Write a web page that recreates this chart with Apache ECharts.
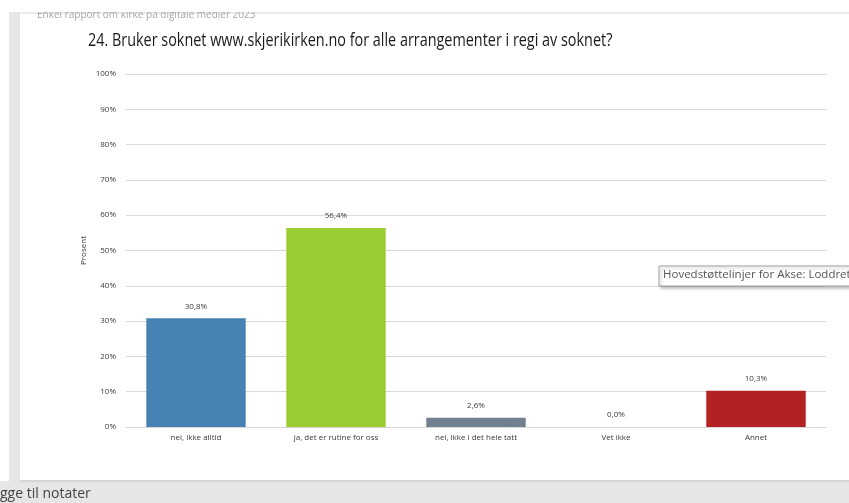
<!DOCTYPE html>
<html>
<head>
<meta charset="utf-8">
<script src="https://cdn.jsdelivr.net/npm/echarts@6/dist/echarts.min.js"></script>
<style>
html,body{margin:0;padding:0;background:#fff;}
#c{width:849px;height:503px;}
</style>
</head>
<body>
<div id="c"></div>
<script>
const categories = ['nei, ikke alltid', 'ja, det er rutine for oss', 'nei, ikke i det hele tatt', 'Vet ikke', 'Annet'];
const values = [30.8, 56.4, 2.6, 0.0, 10.3];
const barColors = ['#4682B4', '#9ACD32', '#708090', '#708090', '#B22222'];
const yTicks = [0, 10, 20, 30, 40, 50, 60, 70, 80, 90, 100];
const titleText = '24. Bruker soknet www.skjerikirken.no for alle arrangementer i regi av soknet?';
const headerText = 'Enkel rapport om kirke på digitale medier 2023';
const tooltipText = 'Hovedstøttelinjer for Akse: Loddrett';
const footerText = 'gge til notater';

const chart = echarts.init(document.getElementById('c'));
const font = 'Open Sans, Noto Sans, sans-serif';
chart.setOption({
  animation: false,
  backgroundColor: '#ffffff',
  grid: { left: 126, right: 23, top: 74, bottom: 76, containLabel: false },
  xAxis: {
    type: 'category',
    data: categories,
    axisLine: { show: true, lineStyle: { color: '#d9d9d9', width: 1 } },
    axisTick: { show: false },
    axisLabel: { color: '#3a3a3a', fontSize: 8, fontFamily: font, margin: 7 }
  },
  yAxis: {
    type: 'value',
    min: 0, max: 100, interval: 10,
    name: 'Prosent',
    nameLocation: 'middle',
    nameGap: 38,
    nameMoveOverlap: false,
    nameRotate: 90,
    nameTextStyle: { color: '#3a3a3a', fontSize: 8, fontFamily: font },
    axisLine: { show: false },
    axisTick: { show: false },
    axisLabel: { color: '#3a3a3a', fontSize: 8, fontFamily: font, margin: 10, formatter: v => yTicks.includes(v) ? v + '%' : '' },
    splitLine: { lineStyle: { color: '#d9d9d9', width: 1 } }
  },
  series: [{
    type: 'bar',
    barWidth: '71%',
    data: values.map((v, i) => ({ value: v, itemStyle: { color: barColors[i] } })),
    label: {
      show: true, position: 'top', distance: 8,
      color: '#3a3a3a', fontSize: 8, fontFamily: font,
      formatter: p => p.value.toFixed(1).replace('.', ',') + '%'
    }
  }],
  graphic: [
    { type: 'text', x: 37, y: 10, z: 1, style: { text: headerText, fill: '#a8a8a8', font: '10px ' + font, verticalAlign: 'top' } },
    { type: 'rect', shape: { x: 0, y: 0, width: 849, height: 12 }, style: { fill: '#ffffff' }, z: 2 },
    { type: 'rect', shape: { x: 9, y: 12, width: 840, height: 2 }, style: { fill: '#e9e9e9' }, z: 0 },
    { type: 'rect', shape: { x: 9, y: 12, width: 11, height: 470 }, style: { fill: '#e6e6e6' }, z: 2 },
    { type: 'rect', shape: { x: 0, y: 481, width: 849, height: 22 }, style: { fill: '#e6e6e6' }, z: 2 },
    { type: 'rect', shape: { x: 20, y: 480, width: 829, height: 2 }, style: { fill: '#d6d6d6' }, z: 2 },
    { type: 'text', x: 0, y: 487, z: 3, style: { text: footerText, fill: '#444444', font: '14px ' + font, verticalAlign: 'top' } },
    { type: 'text', x: 88, y: 32, scaleX: 0.8, z: 3, style: { text: titleText, fill: '#1a1a1a', font: '18px ' + font, verticalAlign: 'top' } },
    { type: 'rect', shape: { x: 659, y: 266, width: 200, height: 20 }, z: 5,
      style: { fill: '#ffffff', stroke: '#a0a0a0', lineWidth: 1, shadowBlur: 3, shadowOffsetX: 2, shadowOffsetY: 2, shadowColor: 'rgba(0,0,0,0.25)' } },
    { type: 'text', x: 663, y: 269, z: 6, style: { text: tooltipText, fill: '#555555', font: '11.5px ' + font, verticalAlign: 'top' } }
  ]
});
</script>
</body>
</html>
